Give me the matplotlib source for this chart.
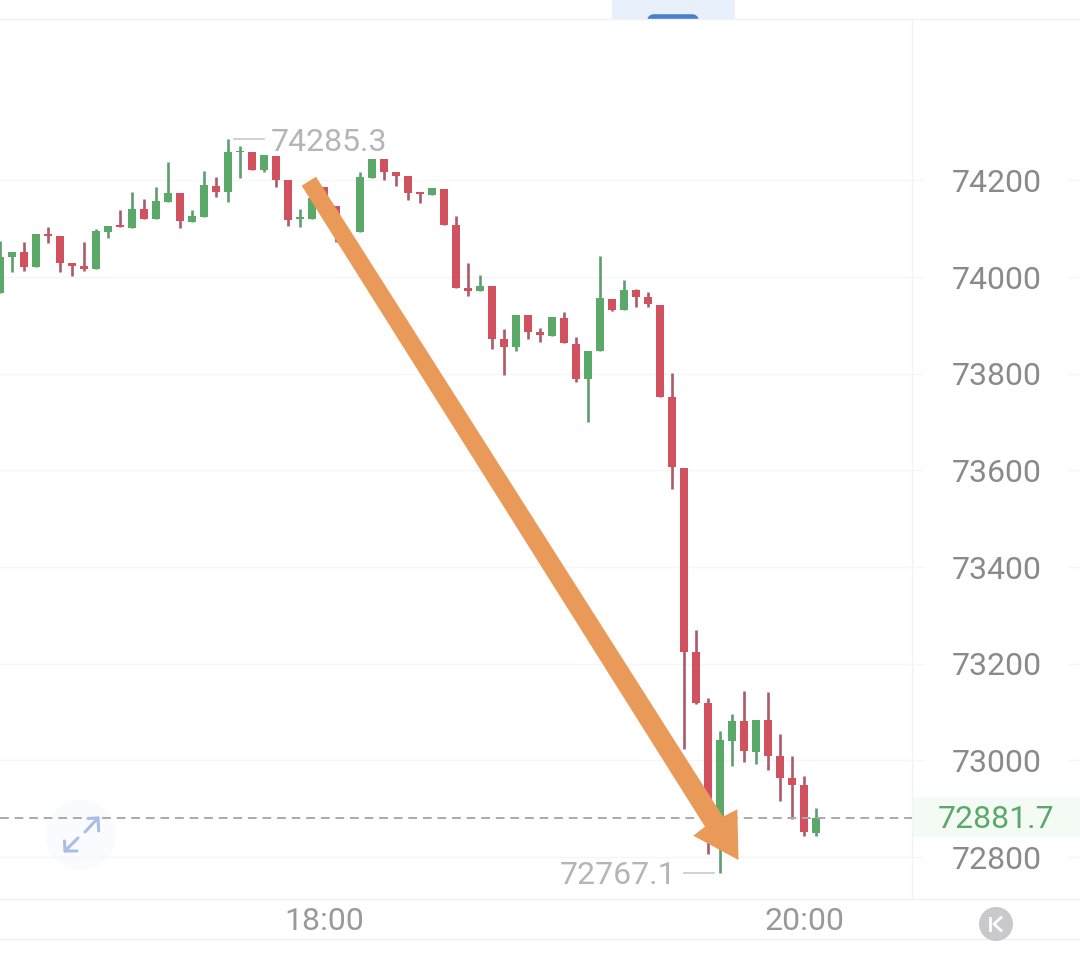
import numpy as np
import matplotlib
matplotlib.use('Agg')
import matplotlib.pyplot as plt
from matplotlib.patches import Circle, Polygon, Rectangle, FancyBboxPatch

plt.rcParams['font.family'] = ['Roboto', 'DejaVu Sans']

# 3 minute candles, minutes relative to 18:00
opens = [73967, 74041, 74051, 74020, 74089, 74085, 74029, 74024, 74016, 74094, 74107, 74102,
         74140, 74120, 74156, 74174, 74115, 74125, 74189, 74176, 74258, 74259, 74221, 74251,
         74202, 74120, 74120, 74187, 74148, 74085, 74093, 74206, 74244, 74217, 74209, 74176,
         74169, 74183, 74108, 73977, 73971, 73981, 73873, 73856, 73921, 73886, 73879, 73915,
         73862, 73789, 73847, 73955, 73932, 73973, 73958, 73943, 73751, 73606, 73225, 73119,
         72835, 73040, 73081, 73018, 73083, 73008, 72963, 72948, 72850]
highs = [74075, 74052, 74072, 74090, 74103, 74085, 74029, 74073, 74100, 74106, 74138, 74176,
         74162, 74186, 74238, 74174, 74139, 74219, 74207, 74285.3, 74271, 74259, 74253, 74251,
         74202, 74140, 74163, 74187, 74148, 74085, 74217, 74245, 74244, 74217, 74209, 74176,
         74184, 74183, 74127, 74029, 74004, 73981, 73893, 73922, 73921, 73894, 73917, 73928,
         73877, 73848, 74044, 73955, 73994, 73975, 73969, 73943, 73801, 73606, 73270, 73130,
         73061, 73096, 73143, 73084, 73141, 73054, 73010, 72968, 72901]
lows = [73967, 74011, 74013, 74020, 74071, 74011, 74003, 74012, 74016, 74080, 74103, 74102,
        74121, 74120, 74156, 74101, 74115, 74125, 74166, 74156, 74206, 74222, 74218, 74187,
        74105, 74104, 74120, 74164, 74073, 74060, 74093, 74206, 74201, 74189, 74160, 74153,
        74169, 74108, 73978, 73962, 73971, 73852, 73797, 73848, 73873, 73865, 73879, 73863,
        73783, 73701, 73847, 73929, 73932, 73938, 73938, 73752, 73562, 73023, 73116, 72806,
        72767.1, 72989, 72997, 72993, 72981, 72916, 72879, 72844, 72844]
closes = [74042, 74052, 74020, 74090, 74085, 74030, 74024, 74017, 74096, 74106, 74103, 74140,
          74121, 74157, 74175, 74116, 74127, 74190, 74176, 74258, 74262, 74222, 74253, 74202,
          74118, 74124, 74163, 74164, 74091, 74065, 74207, 74245, 74218, 74210, 74174, 74172,
          74184, 74108, 73978, 73972, 73982, 73873, 73856, 73922, 73886, 73880, 73917, 73863,
          73789, 73848, 73956, 73933, 73973, 73959, 73944, 73752, 73608, 73225, 73119, 72912,
          73042, 73082, 73019, 73084, 73008, 72963, 72948, 72852, 72881.7]
minutes = np.arange(len(opens)) * 3 - 81

price_ticks = [74200, 74000, 73800, 73600, 73400, 73200, 73000, 72800]
time_ticks = [0, 120]
time_labels = ['18:00', '20:00']
last_price = 72881.7
max_price = 74285.3
min_price = 72767.1

RED = '#d1525e'
GREEN = '#5aa968'
RED_WICK = '#ab5a68'
GREEN_WICK = '#5f9c70'
GRID = '#f6f6f6'
FONT_SIZE = 23

fig = plt.figure(figsize=(10.8, 9.61), dpi=100, facecolor='white')

# background layer in pixel coordinates
bg = fig.add_axes([0, 0, 1, 1], zorder=0)
bg.set_xlim(0, 1080)
bg.set_ylim(961, 0)
bg.axis('off')
bg.add_patch(Rectangle((612, 0), 123, 19, color='#e8f0fb', lw=0))
bg.add_patch(FancyBboxPatch((650, 17), 46, 6, boxstyle='round,pad=0,rounding_size=4',
                            color='#4a7fd0', lw=4))
bg.add_patch(Rectangle((600, 19), 160, 8, color='white', lw=0, zorder=3))
bg.add_patch(Circle((81, 835), 35, color='#fafbfe', lw=0))
bg.add_patch(Rectangle((912, 797), 168, 40, color='#f4fbf5', lw=0))
bg.text(996, 816.5, '72881.7', color='#5aa86a', fontsize=FONT_SIZE, ha='center', va='center_baseline')
for y in [19, 899, 939]:
    bg.plot([0, 1080], [y, y], color='#f2f2f2', lw=1, zorder=4)

# main chart
ax = fig.add_axes([0, 62 / 961, 912 / 1080, 880 / 961], zorder=1)
ax.patch.set_visible(False)
ax.set_xlim(-81, 147)
ax.set_ylim(72713.1, 74534.2)
for side in ['top', 'left', 'bottom']:
    ax.spines[side].set_visible(False)
ax.spines['right'].set_color('#f2f2f2')
ax.spines['right'].set_linewidth(1)

ax.yaxis.tick_right()
ax.set_yticks(price_ticks)
ax.tick_params(axis='y', length=7.9, width=0.8, color=GRID, pad=20.9, labelsize=FONT_SIZE, labelcolor='#8a8a8a')
for label in ax.get_yticklabels():
    label.set_verticalalignment('center_baseline')
ax.set_xticks(time_ticks)
ax.set_xticklabels(time_labels)
ax.tick_params(axis='x', length=0, pad=6, labelsize=FONT_SIZE, labelcolor='#999999')
ax.grid(axis='y', color=GRID, lw=1)
ax.set_axisbelow(True)
ax.hlines(price_ticks, 186, 189, color=GRID, lw=1, clip_on=False)

for x, o, h, l, c in zip(minutes, opens, highs, lows, closes):
    up = c >= o
    ax.vlines(x, l, h, color=GREEN_WICK if up else RED_WICK, lw=1.9, zorder=2)
    ax.bar(x, abs(c - o), bottom=min(o, c), width=2, color=GREEN if up else RED, zorder=3)

ax.axhline(last_price, color='#aaaaaa', lw=1.4, linestyle=(0, (4.5, 3)), zorder=4)

# max / min markers
ax.plot([-22.5, -15], [max_price, max_price], color='#c8c8c8', lw=1.2)
ax.text(-13.25, max_price, '74285.3', color='#b5b5b5', fontsize=FONT_SIZE, va='center_baseline')
ax.plot([90, 97.5], [min_price, min_price], color='#c8c8c8', lw=1.2)
ax.text(88, min_price, '72767.1', color='#b5b5b5', fontsize=FONT_SIZE, ha='right', va='center_baseline')

# foreground layer: hand drawn arrow and buttons
fg = fig.add_axes([0, 0, 1, 1], zorder=2)
fg.set_xlim(0, 1080)
fg.set_ylim(961, 0)
fg.axis('off')
fg.patch.set_visible(False)
fg.add_patch(Polygon([(301.7, 185.7), (316, 176.7), (723, 816.7), (737.3, 809.3),
                      (738.5, 860), (693.3, 835.7), (705, 826.7)],
                     closed=True, color='#e99a58', lw=0))

icon = '#a9bde6'
for xs, ys in [([85, 98], [832, 818]), ([88, 98, 98.7], [818.5, 818, 831]),
               ([78, 65], [838, 851]), ([64.5, 65, 77], [841, 851, 851])]:
    fg.plot(xs, ys, color=icon, lw=2.2, solid_capstyle='round')

fg.add_patch(Circle((996, 924), 17, color='#c9c9cc', lw=0))
fg.plot([990, 990], [918, 930], color='white', lw=2)
fg.plot([1001, 994, 1001], [917.5, 924, 930.5], color='white', lw=2)

fig.savefig('out.png', dpi=100)
